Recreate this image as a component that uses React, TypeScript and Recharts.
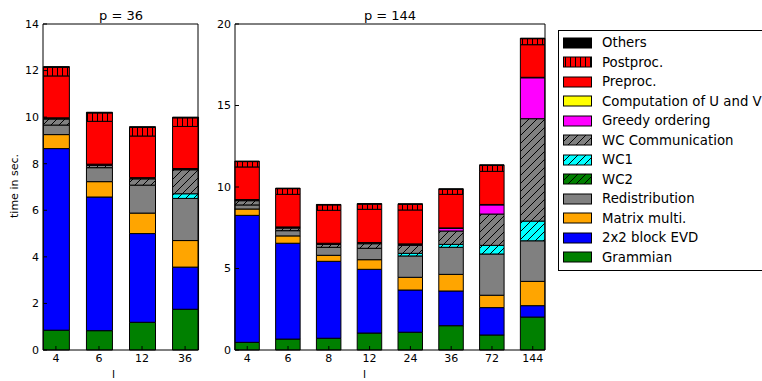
import { BarChart, Bar, XAxis, YAxis } from 'recharts';

// p = 36
const labelsP36 = ['4', '6', '12', '36'];
const grammianP36 = [0.85, 0.83, 1.19, 1.75];
const evdP36 = [7.8, 5.74, 3.81, 1.81];
const matmulP36 = [0.6, 0.66, 0.88, 1.14];
const redistP36 = [0.41, 0.6, 1.2, 1.81];
const wc2P36 = [0, 0, 0, 0];
const wc1P36 = [0, 0, 0, 0.2];
const wcCommP36 = [0.26, 0.1, 0.27, 1.03];
const greedyP36 = [0.03, 0.03, 0.03, 0.03];
const compUVP36 = [0.02, 0.02, 0.02, 0.02];
const preprocP36 = [1.8, 1.84, 1.79, 1.81];
const postprocP36 = [0.37, 0.36, 0.37, 0.37];
const othersP36 = [0.03, 0.03, 0.03, 0.03];

// p = 144
const labelsP144 = ['4', '6', '8', '12', '24', '36', '72', '144'];
const grammianP144 = [0.47, 0.67, 0.72, 1.04, 1.09, 1.49, 0.92, 2.02];
const evdP144 = [7.79, 5.88, 4.72, 3.91, 2.59, 2.13, 1.68, 0.7];
const matmulP144 = [0.39, 0.45, 0.37, 0.59, 0.78, 1.02, 0.76, 1.49];
const redistP144 = [0.25, 0.32, 0.49, 0.7, 1.31, 1.66, 2.53, 2.49];
const wc2P144 = [0, 0, 0, 0, 0, 0, 0, 0];
const wc1P144 = [0, 0, 0, 0, 0.16, 0.18, 0.53, 1.21];
const wcCommP144 = [0.26, 0.16, 0.18, 0.28, 0.49, 0.82, 1.92, 6.28];
const greedyP144 = [0.04, 0.04, 0.04, 0.04, 0.06, 0.16, 0.56, 2.51];
const compUVP144 = [0.03, 0.03, 0.03, 0.03, 0.03, 0.03, 0.03, 0.03];
const preprocP144 = [2.0, 2.0, 2.02, 2.04, 2.08, 2.06, 2.03, 2.0];
const postprocP144 = [0.33, 0.35, 0.33, 0.32, 0.35, 0.31, 0.37, 0.37];
const othersP144 = [0.03, 0.03, 0.03, 0.03, 0.03, 0.03, 0.03, 0.03];

// stacking order, bottom to top
const SERIES = [
  { key: 'grammian', name: 'Grammian', fill: '#008000' },
  { key: 'evd', name: '2x2 block EVD', fill: '#0000ff' },
  { key: 'matmul', name: 'Matrix multi.', fill: '#ffa500' },
  { key: 'redist', name: 'Redistribution', fill: '#808080' },
  { key: 'wc2', name: 'WC2', fill: 'url(#hatchWC2)' },
  { key: 'wc1', name: 'WC1', fill: 'url(#hatchWC1)' },
  { key: 'wcComm', name: 'WC Communication', fill: 'url(#hatchWCComm)' },
  { key: 'greedy', name: 'Greedy ordering', fill: '#ff00ff' },
  { key: 'compUV', name: 'Computation of U and V', fill: '#ffff00' },
  { key: 'preproc', name: 'Preproc.', fill: '#ff0000' },
  { key: 'postproc', name: 'Postproc.', fill: 'url(#hatchPost)' },
  { key: 'others', name: 'Others', fill: '#000000' },
];

const buildRows = (labels: string[], cols: Record<string, number[]>) =>
  labels.map((label, i) => {
    const row: Record<string, any> = { x: i, label };
    Object.keys(cols).forEach((k) => (row[k] = cols[k][i]));
    return row;
  });

const dataP36 = buildRows(labelsP36, {
  grammian: grammianP36, evd: evdP36, matmul: matmulP36, redist: redistP36,
  wc2: wc2P36, wc1: wc1P36, wcComm: wcCommP36, greedy: greedyP36,
  compUV: compUVP36, preproc: preprocP36, postproc: postprocP36, others: othersP36,
});

const dataP144 = buildRows(labelsP144, {
  grammian: grammianP144, evd: evdP144, matmul: matmulP144, redist: redistP144,
  wc2: wc2P144, wc1: wc1P144, wcComm: wcCommP144, greedy: greedyP144,
  compUV: compUVP144, preproc: preprocP144, postproc: postprocP144, others: othersP144,
});

const tickStyle = { fontSize: 11, fill: '#000' };
const black = { stroke: '#000' };

// axes get 1px so that recharts still draws them; margins are reduced by that
function Panel({ data, labels, yMax, yTicks, left, right, barSize }: any) {
  const idx = labels.map((_: string, i: number) => i);
  const domain = [-0.3, labels.length - 0.7];
  return (
    <div style={{ position: 'absolute', left: 0, top: 0 }}>
      <BarChart
        width={762}
        height={381}
        data={data}
        margin={{ top: 23, bottom: 30, left: left - 1, right: right - 1 }}
        barSize={barSize}
      >
        <XAxis
          type="number"
          dataKey="x"
          domain={domain}
          ticks={idx}
          interval={0}
          tickFormatter={(v: number) => labels[v]}
          height={1}
          tickSize={-4}
          tickMargin={8}
          tick={tickStyle}
          axisLine={black}
          tickLine={black}
        />
        <XAxis
          xAxisId="top"
          orientation="top"
          type="number"
          dataKey="x"
          domain={domain}
          ticks={idx}
          interval={0}
          height={1}
          tickSize={-4}
          tick={false}
          axisLine={black}
          tickLine={black}
        />
        <YAxis
          domain={[0, yMax]}
          ticks={yTicks}
          interval={0}
          width={1}
          tickSize={-4}
          tickMargin={8}
          tick={tickStyle}
          axisLine={black}
          tickLine={black}
        />
        <YAxis
          yAxisId="right"
          orientation="right"
          domain={[0, yMax]}
          ticks={yTicks}
          interval={0}
          width={1}
          tickSize={-4}
          tick={false}
          axisLine={black}
          tickLine={black}
        />
        {SERIES.map((s) => (
          <Bar
            key={s.key}
            dataKey={s.key}
            name={s.name}
            stackId="a"
            fill={s.fill}
            stroke="#000"
            strokeWidth={1}
            isAnimationActive={false}
          />
        ))}
      </BarChart>
    </div>
  );
}

function Patterns() {
  const diag = 'M0,8 L8,0 M-2,2 L2,-2 M6,10 L10,6';
  return (
    <svg width={0} height={0} style={{ position: 'absolute' }}>
      <defs>
        <pattern id="hatchWCComm" patternUnits="userSpaceOnUse" width={8} height={8}>
          <rect width={8} height={8} fill="#808080" />
          <path d={diag} stroke="#000" strokeWidth={1} />
        </pattern>
        <pattern id="hatchWC1" patternUnits="userSpaceOnUse" width={8} height={8}>
          <rect width={8} height={8} fill="#00ffff" />
          <path d={diag} stroke="#000" strokeWidth={1} />
        </pattern>
        <pattern id="hatchWC2" patternUnits="userSpaceOnUse" width={8} height={8}>
          <rect width={8} height={8} fill="#008000" />
          <path d={diag} stroke="#000" strokeWidth={1} />
        </pattern>
        <pattern id="hatchPost" patternUnits="userSpaceOnUse" width={5} height={5}>
          <rect width={5} height={5} fill="#ff0000" />
          <path d="M2.5,0 L2.5,5" stroke="#000" strokeWidth={1} />
        </pattern>
      </defs>
    </svg>
  );
}

function LegendBox() {
  const items = [...SERIES].reverse();
  return (
    <div
      style={{
        position: 'absolute',
        left: 558,
        top: 30,
        width: 230,
        border: '1px solid #000',
        background: '#fff',
        padding: '2px 0 3px 4px',
      }}
    >
      {items.map((s) => (
        <div key={s.key} style={{ height: 19.5, display: 'flex', alignItems: 'center' }}>
          <svg width={30} height={12} style={{ marginRight: 9 }}>
            <rect x={0.5} y={1} width={28} height={10} fill={s.fill} stroke="#000" strokeWidth={1} />
          </svg>
          <span style={{ fontSize: 13.3, whiteSpace: 'nowrap' }}>{s.name}</span>
        </div>
      ))}
    </div>
  );
}

export default function App() {
  const textBase = { position: 'absolute' as const, lineHeight: 1, whiteSpace: 'nowrap' as const };
  return (
    <div
      style={{
        position: 'absolute',
        left: 0,
        top: 0,
        width: 762,
        height: 381,
        overflow: 'hidden',
        background: '#fff',
        fontFamily: '"DejaVu Sans", sans-serif',
      }}
    >
      <Patterns />
      <Panel
        data={dataP36}
        labels={labelsP36}
        yMax={14}
        yTicks={[0, 2, 4, 6, 8, 10, 12, 14]}
        left={43}
        right={564}
        barSize={26}
      />
      <Panel
        data={dataP144}
        labels={labelsP144}
        yMax={20}
        yTicks={[0, 5, 10, 15, 20]}
        left={235}
        right={217}
        barSize={24.5}
      />
      <div style={{ ...textBase, left: 121, top: 9, fontSize: 13, transform: 'translateX(-50%)' }}>p = 36</div>
      <div style={{ ...textBase, left: 390, top: 9, fontSize: 13, transform: 'translateX(-50%)' }}>p = 144</div>
      <div style={{ ...textBase, left: 112, top: 369, fontSize: 11 }}>l</div>
      <div style={{ ...textBase, left: 363, top: 369, fontSize: 11 }}>l</div>
      <div
        style={{
          ...textBase,
          left: 14,
          top: 186,
          fontSize: 11,
          transform: 'translate(-50%, -50%) rotate(-90deg)',
        }}
      >
        time in sec.
      </div>
      <LegendBox />
    </div>
  );
}
